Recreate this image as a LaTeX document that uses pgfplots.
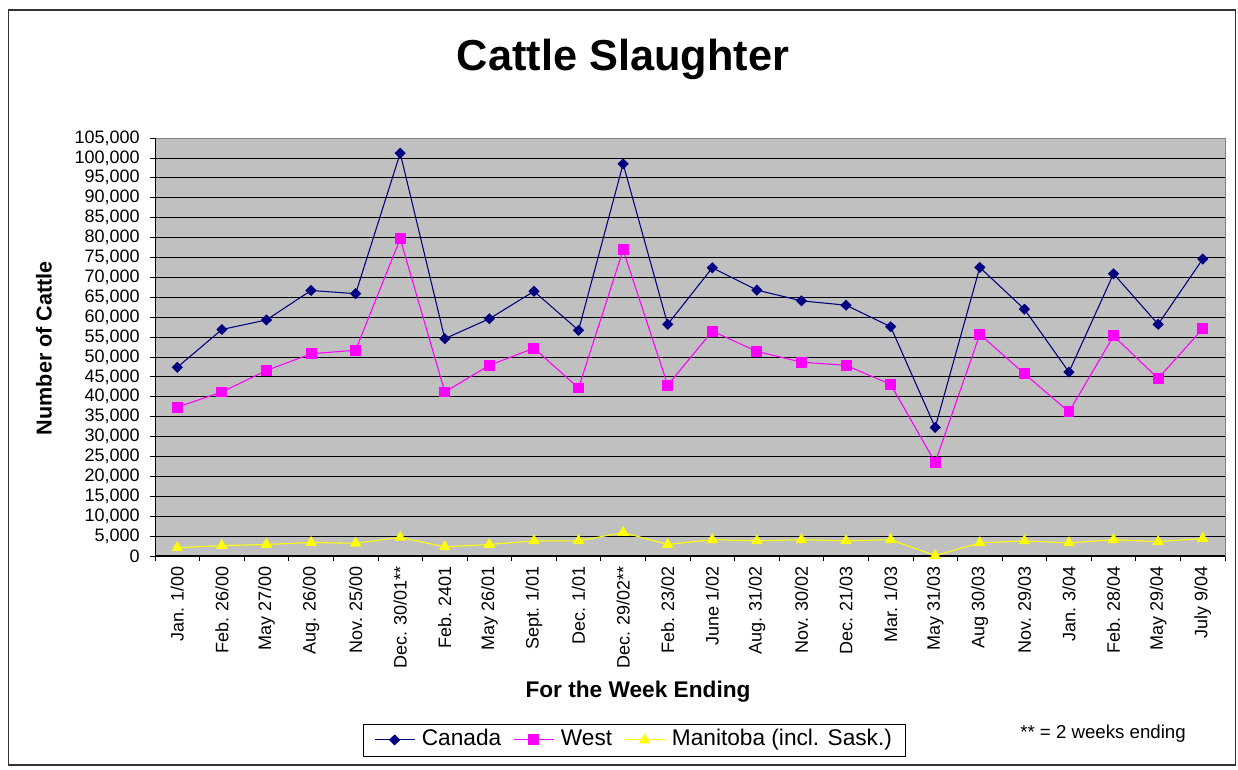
\documentclass[border=0pt]{standalone}
\usepackage{fontspec}
\setmainfont{Liberation Sans}
\usepackage{pgfplots}
\pgfplotsset{compat=1.18}
\definecolor{plotgray}{RGB}{192,192,192}
\definecolor{canada}{RGB}{0,0,128}
\definecolor{west}{RGB}{255,0,255}
\definecolor{manitoba}{RGB}{255,255,0}

% values (head counts)
\pgfplotstableread{
x canada west manitoba
0 47400 37400 2100
1 56900 41200 2600
2 59300 46600 2900
3 66700 50800 3400
4 65900 51700 3200
5 101200 79700 4700
6 54600 41200 2300
7 59600 47900 2900
8 66500 52200 3800
9 56700 42200 3800
10 98500 76900 5900
11 58200 42900 2900
12 72400 56500 4100
13 66800 51400 3800
14 64100 48700 4100
15 63000 47900 3800
16 57600 43100 4100
17 32300 23500 100
18 72500 55700 3300
19 62000 45800 3800
20 46200 36200 3300
21 70900 55300 4100
22 58200 44600 3600
23 74600 57100 4400
}\cattle

\begin{document}
\begin{tikzpicture}
\path[use as bounding box] (0,0) rectangle (928.5pt,-576.75pt);
\begin{scope}[x=0.75pt,y=-0.75pt]
  \draw[line width=1.4pt, black!80] (8.5,10) rectangle (1235.5,765);
  \node[font=\fontsize{32.5}{38}\selectfont\bfseries, anchor=base] at (623,70) {Cattle Slaughter};
  \node[font=\fontsize{16.2}{19}\selectfont\bfseries, rotate=90] at (44,348) {Number of Cattle};
  \node[font=\fontsize{17}{20}\selectfont\bfseries, anchor=base] at (638,697) {For the Week Ending};
  \node[font=\fontsize{14}{16}\selectfont] at (1103,734) {** = 2 weeks ending};
\end{scope}
\begin{axis}[
  at={(116.25pt,-417pt)}, anchor=south west,
  scale only axis, width=802.5pt, height=313.5pt,
  xmin=-0.5, xmax=23.5, ymin=0, ymax=105000,
  axis background/.style={fill=plotgray},
  axis line style={gray},
  xtick pos=bottom, ytick pos=left,
  tick align=outside, major tick length=4pt,
  tick style={black, line width=0.6pt},
  xtick={-0.5,0.5,...,23.5}, xticklabels={},
  extra x ticks={0,...,23},
  extra x tick labels={Jan. 1/00, Feb. 26/00, May 27/00, Aug. 26/00, Nov. 25/00, Dec. 30/01**, Feb. 2401, May 26/01, Sept. 1/01, Dec. 1/01, Dec. 29/02**, Feb. 23/02, June 1/02, Aug. 31/02, Nov. 30/02, Dec. 21/03, Mar. 1/03, May 31/03, Aug 30/03, Nov. 29/03, Jan. 3/04, Feb. 28/04, May 29/04, July 9/04},
  extra x tick style={major tick length=0pt, xmajorgrids=false,
    xticklabel style={rotate=90, anchor=east, xshift=-4pt}},
  ytick={0,5000,...,105000},
  ymajorgrids, major grid style={black, line width=0.6pt},
  scaled y ticks=false,
  yticklabel style={xshift=-4pt, /pgf/number format/.cd, fixed, 1000 sep={,}},
  /pgf/number format/assume math mode=true,
  ticklabel style={font=\fontsize{13.5}{15}\selectfont},
  legend columns=3,
  legend style={at={(axis description cs:0.448,-0.44)}, anchor=center,
    draw=black, line width=0.6pt, font=\fontsize{17}{19}\selectfont,
    inner xsep=8pt, inner ysep=2pt,
    nodes={text height=12.5pt, text depth=3.5pt},
    /tikz/every odd column/.append style={column sep=3pt},
    /tikz/every even column/.append style={column sep=7pt}},
  legend image code/.code={\draw[mark repeat=2, mark phase=2, #1]
    plot coordinates {(0pt,0pt) (15pt,0pt) (30pt,0pt)};},
]
  \addplot[canada, line width=0.8pt, mark=diamond*, mark size=3.6pt,
    mark options={xscale=1.35}] table[x=x, y=canada] {\cattle};
  \addlegendentry{Canada}
  \addplot[west, line width=0.8pt, mark=square*, mark size=3.7pt] table[x=x, y=west] {\cattle};
  \addlegendentry{West}
  \addplot[manitoba, line width=0.8pt, mark=triangle*, mark size=4.2pt] table[x=x, y=manitoba] {\cattle};
  \addlegendentry{Manitoba (incl. Sask.)}
  \draw[black, line width=0.8pt] (rel axis cs:0,1) -- (rel axis cs:0,0) -- (rel axis cs:1,0);
\end{axis}
\end{tikzpicture}
\end{document}
